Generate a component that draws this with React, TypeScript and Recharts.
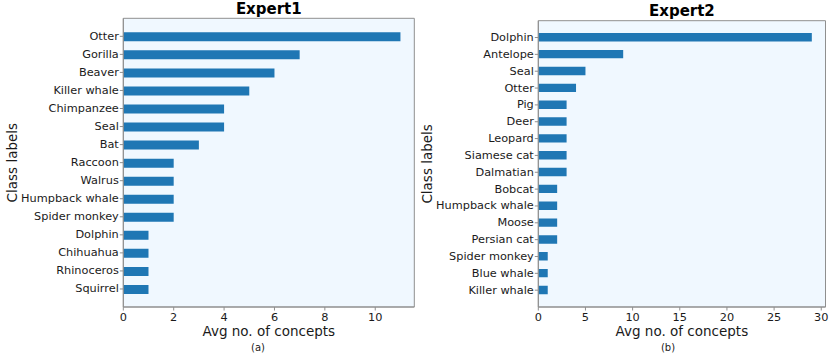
import React from 'react';
import { BarChart, Bar, XAxis, YAxis, CartesianGrid } from 'recharts';

const expert1Labels = ['Otter', 'Gorilla', 'Beaver', 'Killer whale', 'Chimpanzee', 'Seal', 'Bat', 'Raccoon', 'Walrus', 'Humpback whale', 'Spider monkey', 'Dolphin', 'Chihuahua', 'Rhinoceros', 'Squirrel'];
const expert1Values = [11, 7, 6, 5, 4, 4, 3, 2, 2, 2, 2, 1, 1, 1, 1];
const expert1Ticks = [0, 2, 4, 6, 8, 10];

const expert2Labels = ['Dolphin', 'Antelope', 'Seal', 'Otter', 'Pig', 'Deer', 'Leopard', 'Siamese cat', 'Dalmatian', 'Bobcat', 'Humpback whale', 'Moose', 'Persian cat', 'Spider monkey', 'Blue whale', 'Killer whale'];
const expert2Values = [29, 9, 5, 4, 3, 3, 3, 3, 3, 2, 2, 2, 2, 1, 1, 1];
const expert2Ticks = [0, 5, 10, 15, 20, 25, 30];

const FONT = 'DejaVu Sans';
const SPINE = '#8f8f8f';
const TEXT = '#1a1a1a';
const TICK_FS = 11.3;

const YTick = (props: any) => {
  const { x, y, payload } = props;
  return (
    <text
      x={x}
      y={y}
      textAnchor="end"
      dominantBaseline="central"
      fontSize={TICK_FS}
      fontFamily={FONT}
      fill={TEXT}
    >
      {payload.value}
    </text>
  );
};

const XTick = (props: any) => {
  const { x, y, payload } = props;
  return (
    <text
      x={x}
      y={y}
      dy="0.71em"
      textAnchor="middle"
      fontSize={TICK_FS}
      fontFamily={FONT}
      fill={TEXT}
    >
      {payload.value}
    </text>
  );
};

type PanelProps = {
  labels: string[];
  values: number[];
  ticks: number[];
  xMax: number;
  title: string;
  width: number;
  height: number;
  left: number;
  top: number;
  right: number;
  yAxisWidth: number;
  pad: number;
  barSize: number;
  ylabelX: number;
};

function Panel(p: PanelProps) {
  const data = p.labels.map((name, i) => ({ name, value: p.values[i] }));
  return (
    <div style={{ position: 'absolute', left: p.left, top: 0 }}>
      <BarChart
        width={p.width}
        height={p.height}
        data={data}
        layout="vertical"
        margin={{ top: p.top, right: p.right, left: 0, bottom: 0 }}
      >
        <CartesianGrid
          fill="#f0f8ff"
          stroke={SPINE}
          strokeWidth={1}
          horizontal
          vertical
          horizontalCoordinatesGenerator={(props: any) => [
            props.offset.top,
            props.offset.top + props.offset.height,
          ]}
          verticalCoordinatesGenerator={(props: any) => [
            props.offset.left,
            props.offset.left + props.offset.width,
          ]}
        />
        <XAxis
          type="number"
          domain={[0, p.xMax]}
          ticks={p.ticks}
          allowDataOverflow
          height={51}
          tickSize={3.5}
          tickMargin={2}
          stroke={SPINE}
          tick={<XTick />}
          label={{
            content: (props: any) => {
              const vb = props.viewBox || {};
              const cx = vb.x + vb.width / 2;
              return (
                <g>
                  <text
                    x={cx}
                    y={vb.y + 28.8}
                    textAnchor="middle"
                    fontSize={13.5}
                    fill={TEXT}
                    fontFamily={FONT}
                  >
                    Avg no. of concepts
                  </text>
                  <text
                    x={cx}
                    y={p.top - 4.5}
                    textAnchor="middle"
                    fontSize={15}
                    fontWeight="bold"
                    fill="#000"
                    fontFamily={FONT}
                  >
                    {p.title}
                  </text>
                </g>
              );
            },
          }}
        />
        <YAxis
          type="category"
          dataKey="name"
          width={p.yAxisWidth}
          interval={0}
          tickSize={3.5}
          tickMargin={1}
          stroke={SPINE}
          padding={{ top: p.pad, bottom: p.pad }}
          tick={<YTick />}
          label={{
            content: (props: any) => {
              const vb = props.viewBox || {};
              const cx = p.ylabelX;
              const cy = vb.y + vb.height / 2;
              return (
                <text
                  x={cx}
                  y={cy}
                  textAnchor="middle"
                  dominantBaseline="central"
                  fontSize={13.5}
                  fill={TEXT}
                  fontFamily={FONT}
                  transform={`rotate(-90 ${cx} ${cy})`}
                >
                  Class labels
                </text>
              );
            },
          }}
        />
        <Bar dataKey="value" fill="#1f77b4" barSize={p.barSize} isAnimationActive={false} />
      </BarChart>
    </div>
  );
}

export default function App() {
  return (
    <div
      style={{
        position: 'absolute',
        left: 0,
        top: 0,
        width: 830,
        height: 358,
        background: '#fff',
        fontFamily: FONT,
        overflow: 'hidden',
      }}
    >
      <Panel
        labels={expert1Labels}
        values={expert1Values}
        ticks={expert1Ticks}
        xMax={11.55}
        title="Expert1"
        width={420}
        height={358}
        left={0}
        top={18.3}
        right={5.7}
        yAxisWidth={123.3}
        pad={9}
        barSize={9}
        ylabelX={12}
      />
      <Panel
        labels={expert2Labels}
        values={expert2Values}
        ticks={expert2Ticks}
        xMax={30.45}
        title="Expert2"
        width={410}
        height={358}
        left={420}
        top={20.7}
        right={4.5}
        yAxisWidth={118.3}
        pad={8.4}
        barSize={8.4}
        ylabelX={7}
      />
      <div
        style={{
          position: 'absolute',
          left: 208,
          width: 100,
          top: 342,
          textAlign: 'center',
          fontSize: 10,
          color: TEXT,
          lineHeight: '12px',
        }}
      >
        (a)
      </div>
      <div
        style={{
          position: 'absolute',
          left: 618,
          width: 100,
          top: 342,
          textAlign: 'center',
          fontSize: 10,
          color: TEXT,
          lineHeight: '12px',
        }}
      >
        (b)
      </div>
    </div>
  );
}
